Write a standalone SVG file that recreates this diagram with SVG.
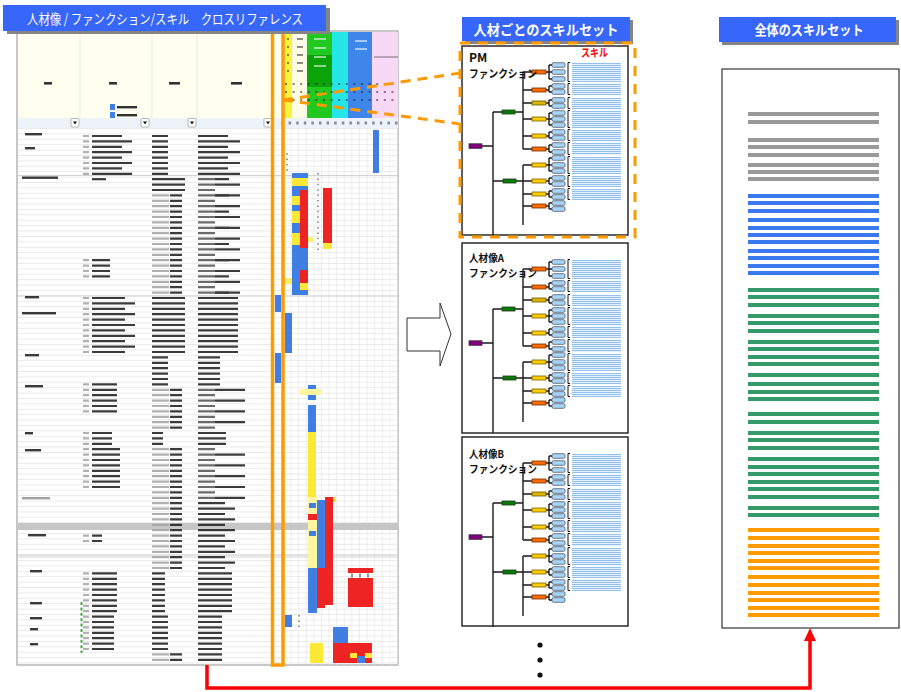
<svg xmlns="http://www.w3.org/2000/svg" xmlns:xlink="http://www.w3.org/1999/xlink" width="901" height="692" viewBox="0 0 901 692">
<style>
  .ttl{font-family:"Noto Sans CJK JP","Liberation Sans",sans-serif;fill:#fff}
  .lbl{font-family:"Noto Sans CJK JP","Liberation Sans",sans-serif;font-weight:bold;fill:#111}
  .tb{stroke:#262626;stroke-dasharray:2.2 3.2;fill:none}
  .tb2{stroke:#262626;stroke-dasharray:2.2 8.6;fill:none}
  .tb3{stroke:#262626;stroke-dasharray:2.2 14;fill:none}
  .tl{stroke:#a8a8a8;stroke-dasharray:2.2 3.2;fill:none}
  .tm{stroke:#5a5a5a;stroke-dasharray:2.2 3.2;fill:none}
  .B{fill:#3f7fe3}.R{fill:#ee2424}.Y{fill:#fbe936}.LY{fill:#fff4a0}
  .cn{stroke:#1a1a1a;stroke-width:1.4;fill:none}
  .fo{fill:#ff6a00;stroke:#6b3000;stroke-width:0.8}
  .fy{fill:#ffcc00;stroke:#7a6000;stroke-width:0.8}
  .fy2{fill:#dcb400;stroke:#6b5500;stroke-width:0.8}
  .sk{fill:#a9d3f7;stroke:#4d5b6a;stroke-width:0.8}
  .br{stroke:#111;stroke-width:1;fill:none}
  .box{fill:#fff;stroke:#2a2a2a;stroke-width:1.5}
  .gr{fill:#9a9a9a}.bl{fill:#3a78ee}.gn{fill:#35996a}.or{fill:#ff9a00}
</style>
<defs>
  <pattern id="rowGrid" x="0" y="128" width="10" height="5.4" patternUnits="userSpaceOnUse">
    <rect width="10" height="0.6" fill="#dedede"/>
  </pattern>
  <pattern id="colGrid" x="283" y="0" width="7.6" height="10" patternUnits="userSpaceOnUse">
    <rect width="0.6" height="10" fill="#e4e4e4"/>
  </pattern>
  <filter id="soft" x="-5%" y="-5%" width="110%" height="110%">
    <feGaussianBlur stdDeviation="0.45"/>
  </filter>
  <!-- one skill tree: role, functions, skills -->
  <g id="skillTree">
    <path class="cn" d="M20 100H31M31 66V190M31 66H40M31 135H41M53 66H61M61 26V103M54 135H61M61 119V179M61 26H70M61 44H70M61 57H70M61 73H70M61 90H70M61 103H70M61 119H70M61 135H70M61 148H70M61 160H70"/>
    <path class="cn" stroke-width="1" d="M84 26H87M87 19V33M87 19H90M87 26H90M87 33H90
      M84 44H87M87 40V46M87 40H90M87 46H90
      M84 57H87M87 54V60M87 54H90M87 60H90
      M84 73H87M87 67V79M87 67H90M87 73H90M87 79H90
      M84 90H87M87 86V92M87 86H90M87 92H90
      M84 103H87M87 99V106M87 99H90M87 106H90
      M84 119H87M87 112V125M87 112H90M87 119H90M87 125H90
      M84 135H87M87 132V138M87 132H90M87 138H90
      M84 148H87M87 145V151M87 145H90M87 151H90
      M84 160H87M87 157V163M87 157H90M87 163H90"/>
    <rect x="7" y="97.8" width="13" height="4.5" fill="#82007e" stroke="#333" stroke-width="0.8"/>
    <rect x="40" y="64" width="13" height="4" fill="#087a08" stroke="#1f3a1f" stroke-width="0.8"/>
    <rect x="41" y="133" width="13" height="4" fill="#087a08" stroke="#1f3a1f" stroke-width="0.8"/>
    <rect class="fo" x="70" y="24" width="14" height="4"/>
    <rect class="fo" x="70" y="42" width="14" height="4"/>
    <rect class="fy2" x="70" y="55" width="14" height="4"/>
    <rect class="fy" x="70" y="71" width="14" height="4"/>
    <rect class="fy" x="70" y="88" width="14" height="4"/>
    <rect class="fo" x="70" y="101" width="14" height="4"/>
    <rect class="fy" x="70" y="117" width="14" height="4"/>
    <rect class="fy" x="70" y="133" width="14" height="4"/>
    <rect class="fy" x="70" y="146" width="14" height="4"/>
    <rect class="fo" x="70" y="158" width="14" height="4"/>
    <g>
      <rect class="sk" x="90" y="16.7" width="13" height="4.6" rx="1.4"/>
      <rect class="sk" x="90" y="23.7" width="13" height="4.6" rx="1.4"/>
      <rect class="sk" x="90" y="30.7" width="13" height="4.6" rx="1.4"/>
      <rect class="sk" x="90" y="37.7" width="13" height="4.6" rx="1.4"/>
      <rect class="sk" x="90" y="43.7" width="13" height="4.6" rx="1.4"/>
      <rect class="sk" x="90" y="51.7" width="13" height="4.6" rx="1.4"/>
      <rect class="sk" x="90" y="57.7" width="13" height="4.6" rx="1.4"/>
      <rect class="sk" x="90" y="64.7" width="13" height="4.6" rx="1.4"/>
      <rect class="sk" x="90" y="70.7" width="13" height="4.6" rx="1.4"/>
      <rect class="sk" x="90" y="76.7" width="13" height="4.6" rx="1.4"/>
      <rect class="sk" x="90" y="83.7" width="13" height="4.6" rx="1.4"/>
      <rect class="sk" x="90" y="89.7" width="13" height="4.6" rx="1.4"/>
      <rect class="sk" x="90" y="96.7" width="13" height="4.6" rx="1.4"/>
      <rect class="sk" x="90" y="103.7" width="13" height="4.6" rx="1.4"/>
      <rect class="sk" x="90" y="109.7" width="13" height="4.6" rx="1.4"/>
      <rect class="sk" x="90" y="116.7" width="13" height="4.6" rx="1.4"/>
      <rect class="sk" x="90" y="122.7" width="13" height="4.6" rx="1.4"/>
      <rect class="sk" x="90" y="129.7" width="13" height="4.6" rx="1.4"/>
      <rect class="sk" x="90" y="135.7" width="13" height="4.6" rx="1.4"/>
      <rect class="sk" x="90" y="142.7" width="13" height="4.6" rx="1.4"/>
      <rect class="sk" x="90" y="148.7" width="13" height="4.6" rx="1.4"/>
      <rect class="sk" x="90" y="154.7" width="13" height="4.6" rx="1.4"/>
      <rect class="sk" x="90" y="160.7" width="13" height="4.6" rx="1.4"/>
    </g>
    <!-- skill item lines -->
    <g fill="#e6f1fc">
      <rect x="110" y="17" width="49" height="19"/>
      <rect x="110" y="38" width="49" height="11"/>
      <rect x="110" y="52" width="49" height="11"/>
      <rect x="110" y="65" width="49" height="17"/>
      <rect x="110" y="84" width="49" height="11"/>
      <rect x="110" y="97" width="49" height="12"/>
      <rect x="110" y="111" width="49" height="17"/>
      <rect x="110" y="130" width="49" height="11"/>
      <rect x="110" y="143" width="49" height="11"/>
    </g>
    <path stroke="#92c1f0" stroke-width="49" stroke-dasharray="1 1" fill="none"
      d="M134.5 17V36M134.5 38V49M134.5 52V63M134.5 65V82M134.5 84V95M134.5 97V109M134.5 111V128M134.5 130V141M134.5 143V154"/>
    <path class="br" d="M108 16.5H106V35.5H108M108 37.5H106V48.5H108M108 51.5H106V62.5H108M108 64.5H106V81.5H108M108 83.5H106V94.5H108M108 96.5H106V108.5H108M108 110.5H106V127.5H108M108 129.5H106V140.5H108M108 142.5H106V153.5H108"/>
  </g>
</defs>

<rect width="901" height="692" fill="#fff"/>

<!-- cross-reference sheet -->
<g id="sheet">
  <rect x="17" y="31" width="381" height="634" fill="#fff" stroke="#a3a3a3" stroke-width="1.2"/>
  <!-- header -->
  <rect x="18" y="32" width="265" height="86" fill="#fffff0"/>
  <path d="M80 32V118M152 32V118M197 32V118" stroke="#ecebd6" stroke-width="1"/>
  <rect x="283" y="32" width="3" height="86" fill="#f5f5c6"/>
  <rect x="285" y="32" width="7" height="86" fill="#f7f23c"/>
  <rect x="292" y="32" width="15" height="86" fill="#fdfde6"/>
  <rect x="307" y="32" width="25" height="86" fill="#20c820"/>
  <rect x="307" y="55" width="25" height="32" fill="#0aa40a"/>
  <rect x="332" y="32" width="16" height="86" fill="#25e6e6"/>
  <rect x="348" y="32" width="24" height="86" fill="#3f86ea"/>
  <rect x="372" y="32" width="26" height="86" fill="#f7d9f7"/>
  <g opacity="0.55" filter="url(#soft)">
    <path d="M300 38V75" stroke="#333" stroke-width="6" stroke-dasharray="2 6"/>
    <path d="M288 38V75" stroke="#333" stroke-width="2" stroke-dasharray="2 6"/>
    <path d="M320 38V70" stroke="#fff" stroke-width="12" stroke-dasharray="2 7"/>
    <path d="M361 40V52" stroke="#fff" stroke-width="12" stroke-dasharray="2 6"/>
    <path d="M285 84H398M285 92H398M285 100H398" stroke="#222" stroke-width="2" stroke-dasharray="2 5.6"/>
    <path d="M374 57H398" stroke="#555" stroke-width="1.5"/>
  </g>
  <!-- header labels, legend, filter row -->
  <g filter="url(#soft)" fill="#333">
    <rect x="44" y="82" width="8" height="2.6"/>
    <rect x="109" y="82" width="8" height="2.6"/>
    <rect x="169" y="82" width="11" height="2.6"/>
    <rect x="231" y="82" width="11" height="2.6"/>
    <rect x="110" y="104" width="5" height="6" fill="#3f7fe3"/>
    <rect x="110" y="112" width="5" height="6" fill="#3f7fe3"/>
    <rect x="117" y="106" width="20" height="2.4"/>
    <rect x="117" y="114" width="20" height="2.4"/>
  </g>
  <rect x="18" y="118" width="380" height="10" fill="#eef3f9"/>
  <path d="M281 123H398" stroke="#5a6070" stroke-width="3" stroke-dasharray="2.5 5.1" opacity="0.7"/>
  <g fill="#fff" stroke="#9aa" stroke-width="0.8">
    <rect x="71" y="118.5" width="8" height="8.5" rx="1"/>
    <rect x="141" y="118.5" width="8" height="8.5" rx="1"/>
    <rect x="188" y="118.5" width="8" height="8.5" rx="1"/>
    <rect x="264" y="118.5" width="8" height="8.5" rx="1"/>
  </g>
  <g fill="#111">
    <path d="M73 121.5h4l-2 3z"/><path d="M143 121.5h4l-2 3z"/><path d="M190 121.5h4l-2 3z"/><path d="M266 121.5h4l-2 3z"/>
  </g>
  <!-- data grid -->
  <rect x="18" y="128" width="380" height="537" fill="url(#rowGrid)"/>
  <rect x="283" y="128" width="115" height="537" fill="url(#colGrid)"/>
  <rect x="18" y="523" width="380" height="7" fill="#c6c6c6"/>
  <path d="M18 175.5H398M18 296H398M18 555H398M18 557H398" stroke="#c8c8c8" stroke-width="0.8"/>
  <!-- cell texts -->
  <g filter="url(#soft)" opacity="0.9">
    <g fill="#262626">
      <rect x="25" y="133" width="17" height="2.4"/>
      <rect x="25" y="147" width="10" height="2.4"/>
      <rect x="22" y="176.5" width="36" height="2.4"/>
      <rect x="25" y="296" width="14" height="2.4"/>
      <rect x="22" y="312" width="34" height="2.4"/>
      <rect x="25" y="354" width="14" height="2.4"/>
      <rect x="25" y="385" width="18" height="2.4"/>
      <rect x="25" y="432" width="8" height="2.4"/>
      <rect x="25" y="449" width="16" height="2.4"/>
      <rect x="28" y="534" width="18" height="2.4"/>
      <rect x="30" y="570" width="12" height="2.4"/>
      <rect x="30" y="602" width="12" height="2.4"/>
      <rect x="30" y="617" width="12" height="2.4"/>
      <rect x="30" y="628" width="8" height="2.4"/>
      <rect x="30" y="643" width="8" height="2.4"/>
    </g>
    <rect x="22" y="497" width="28" height="2.4" fill="#9a9a9a"/>
    <!-- numbering -->
    <path class="tl" stroke-width="6" d="M86 134.9V175.1M86 259.1V277.7M86 296.9V353.3M86 383.3V412.7M86 431.9V445.1M86 448.1V488.3M86 534.5V542.3M86 572.3V650.3"/>
    <!-- second column -->
    <path class="tb" stroke-width="30" d="M107 134.9V175.1"/>
    <path class="tb2" stroke-width="10" d="M127 140.3V175.1"/>
    <path class="tb" stroke-width="14" d="M99 178.1V180.5"/>
    <path class="tb" stroke-width="18" d="M101 259.1V277.7"/>
    <path class="tb" stroke-width="33" d="M108.5 296.9V353.3"/>
    <path class="tb2" stroke-width="10" d="M130 302.3V353.3"/>
    <path class="tb" stroke-width="25" d="M104.5 383.3V412.7"/>
    <path class="tb" stroke-width="20" d="M102 431.9V445.1"/>
    <path class="tb" stroke-width="28" d="M106 448.1V488.3"/>
    <path class="tb" stroke-width="10" d="M97 534.5V542.3"/>
    <path class="tb" stroke-width="25" d="M104.5 572.3V612.5"/>
    <path class="tb" stroke-width="22" d="M103 615.5V650.3"/>
    <!-- third column -->
    <path class="tb" stroke-width="16" d="M160 134.9V175.1"/>
    <path class="tb" stroke-width="33" d="M168.5 178.1V191.3"/>
    <path class="tl" stroke-width="17" d="M160.5 194.3V293.9M160.5 388.7V428.9M160.5 448.1V569.3M160.5 653.3V661.1"/>
    <path class="tb" stroke-width="12" d="M176 194.3V293.9M176 388.7V428.9M176 448.1V569.3M176 653.3V661.1"/>
    <path class="tb" stroke-width="33" d="M168.5 296.9V353.3"/>
    <path class="tb" stroke-width="16" d="M160 356.3V385.7"/>
    <path class="tb" stroke-width="11" d="M157.5 431.9V445.1"/>
    <path class="tb" stroke-width="13" d="M158.5 572.3V612.5"/>
    <path class="tb" stroke-width="16" d="M160 615.5V650.3"/>
    <!-- fourth column -->
    <path class="tb" stroke-width="30" d="M213 134.9V175.1"/>
    <path class="tb2" stroke-width="12" d="M234 140.3V175.1"/>
    <path class="tm" stroke-width="17" d="M206.5 178.1V293.9"/>
    <path class="tb2" stroke-width="25" d="M227.5 183.5V293.9"/>
    <path class="tb3" stroke-width="14" d="M222 178.1V293.9"/>
    <path class="tb" stroke-width="40" d="M218 296.9V353.3"/>
    <path class="tb" stroke-width="22" d="M209 356.3V385.7"/>
    <path class="tm" stroke-width="17" d="M206.5 388.7V428.9M206.5 448.1V499.1"/>
    <path class="tb2" stroke-width="30" d="M230 388.7V428.9M230 453.5V499.1"/>
    <path class="tb" stroke-width="28" d="M212 431.9V445.1"/>
    <path class="tb" stroke-width="27" d="M211.5 502.1V569.3"/>
    <path class="tb2" stroke-width="10" d="M230 507.5V569.3"/>
    <path class="tb" stroke-width="34" d="M215 572.3V612.5"/>
    <path class="tb" stroke-width="24" d="M210 615.5V661.1"/>
  </g>
  <path d="M81.5 602V653" stroke="#45a845" stroke-width="2" stroke-dasharray="3 2.4"/>
  <!-- skill marks -->
  <g>
    <rect class="B" x="373" y="130" width="6" height="43"/>
    <rect class="B" x="292" y="173" width="16" height="5"/>
    <rect class="Y" x="292" y="178" width="16" height="8"/>
    <rect class="B" x="292" y="186" width="8" height="10"/>
    <rect class="B" x="300" y="186" width="8" height="4"/>
    <rect class="R" x="300" y="190" width="8" height="58"/>
    <rect class="Y" x="292" y="196" width="8" height="9"/>
    <rect class="B" x="292" y="205" width="8" height="6"/>
    <rect class="Y" x="292" y="211" width="8" height="12"/>
    <rect class="B" x="292" y="223" width="8" height="10"/>
    <rect class="Y" x="292" y="233" width="8" height="12"/>
    <rect class="Y" x="308" y="237" width="5" height="5" opacity="0.7"/>
    <rect class="B" x="292" y="245" width="8" height="50"/>
    <rect class="B" x="300" y="248" width="8" height="22"/>
    <rect class="R" x="300" y="270" width="8" height="13"/>
    <rect class="Y" x="300" y="283" width="8" height="7"/>
    <rect class="B" x="300" y="290" width="8" height="5"/>
    <rect class="Y" x="285" y="278" width="7" height="6" opacity="0.75"/>
    <rect class="R" x="323" y="188" width="9" height="55"/>
    <rect class="Y" x="323" y="243" width="9" height="6"/>
    <rect class="B" x="275" y="295" width="6" height="17"/>
    <rect class="B" x="285" y="313" width="7" height="40"/>
    <rect class="B" x="275" y="353" width="6" height="30"/>
    <rect class="B" x="308" y="385" width="8" height="4"/>
    <rect class="LY" x="300" y="389" width="22" height="6"/>
    <rect class="B" x="308" y="395" width="8" height="5"/>
    <rect class="B" x="308" y="405" width="8" height="27"/>
    <rect class="Y" x="308" y="432" width="8" height="65"/>
    <rect class="LY" x="308" y="497" width="9" height="71"/>
    <rect class="B" x="309" y="503" width="7" height="5"/>
    <rect class="R" x="308" y="514" width="9" height="6"/>
    <rect class="B" x="309" y="531" width="7" height="5"/>
    <rect class="B" x="317" y="500" width="8" height="68"/>
    <rect class="R" x="325" y="497" width="8" height="108"/>
    <rect class="Y" x="333" y="497" width="3" height="5"/>
    <rect class="B" x="308" y="568" width="9" height="45"/>
    <rect class="R" x="317" y="568" width="8" height="40"/>
    <rect class="R" x="348" y="568" width="25" height="5"/>
    <rect class="R" x="348" y="578" width="25" height="29"/>
    <rect class="B" x="285" y="615" width="7" height="12"/>
    <rect class="B" x="333" y="627" width="15" height="16"/>
    <rect class="Y" x="310" y="643" width="13" height="20"/>
    <rect class="R" x="333" y="643" width="39" height="20"/>
    <rect class="Y" x="350" y="653" width="7" height="5"/>
    <rect class="B" x="357" y="656" width="8" height="7"/>
    <rect class="Y" x="365" y="653" width="7" height="5"/>
    <path d="M318 173V250M287 153V171M299 615V627" stroke="#9a9a9a" stroke-width="2" stroke-dasharray="1.5 3.9"/>
    <path d="M352 573.5V577.5M360 573.5V577.5M368 573.5V577.5" stroke="#777" stroke-width="1.5"/>
  </g>
  <!-- selected column -->
  <rect x="272.5" y="32" width="10.5" height="633" fill="none" stroke="#ff9a00" stroke-width="3.5"/>
</g>

<!-- headings -->
<g id="title-crossref">
  <rect x="7" y="8" width="323" height="26" fill="#858585"/>
  <rect x="3" y="5" width="323" height="26" fill="#3666fa"/>
  <text class="ttl" x="27" y="24" font-size="13.5" textLength="276" lengthAdjust="spacingAndGlyphs">人材像 / ファンクション/スキル　クロスリファレンス</text>
</g>
<g id="title-person">
  <rect x="465" y="20" width="168" height="24" fill="#858585"/>
  <rect x="462" y="17" width="168" height="24" fill="#3666fa"/>
  <text class="ttl" x="546" y="35" font-size="14" font-weight="bold" text-anchor="middle" textLength="145" lengthAdjust="spacingAndGlyphs">人材ごとのスキルセット</text>
</g>
<g id="title-total">
  <rect x="722" y="20" width="177" height="25" fill="#858585"/>
  <rect x="719" y="17" width="177" height="25" fill="#3666fa"/>
  <text class="ttl" x="809" y="35" font-size="13.5" font-weight="bold" text-anchor="middle" textLength="109" lengthAdjust="spacingAndGlyphs">全体のスキルセット</text>
</g>

<!-- per-person skill sets -->
<g id="set-pm">
  <rect class="box" x="462" y="46" width="166" height="189"/>
  <use xlink:href="#skillTree" transform="translate(462,46)"/>
  <text class="lbl" x="469" y="62" font-size="12">PM</text>
  <text class="lbl" x="469" y="78" font-size="11" textLength="68" lengthAdjust="spacingAndGlyphs">ファンクション</text>
  <text x="581" y="57" font-size="11" font-weight="bold" fill="#ff0000" font-family="Noto Sans CJK JP, sans-serif" textLength="27" lengthAdjust="spacingAndGlyphs">スキル</text>
</g>
<g id="set-a">
  <rect class="box" x="462" y="243" width="166" height="190"/>
  <use xlink:href="#skillTree" transform="translate(462,243)"/>
  <text class="lbl" x="469" y="261.5" font-size="10.5" textLength="35" lengthAdjust="spacingAndGlyphs">人材像A</text>
  <text class="lbl" x="469" y="277" font-size="10.5" textLength="68" lengthAdjust="spacingAndGlyphs">ファンクション</text>
</g>
<g id="set-b">
  <rect class="box" x="462" y="437" width="166" height="189"/>
  <use xlink:href="#skillTree" transform="translate(462,437)"/>
  <text class="lbl" x="469" y="457.5" font-size="10.5" textLength="35" lengthAdjust="spacingAndGlyphs">人材像B</text>
  <text class="lbl" x="469" y="473" font-size="10.5" textLength="68" lengthAdjust="spacingAndGlyphs">ファンクション</text>
</g>
<g id="more">
  <circle cx="540" cy="645" r="2.6" fill="#111"/>
  <circle cx="540" cy="660" r="2.6" fill="#111"/>
  <circle cx="540" cy="675" r="2.6" fill="#111"/>
</g>

<!-- overall skill set -->
<g id="set-total">
  <rect x="722" y="69" width="177" height="559" fill="#fff" stroke="#444" stroke-width="1.3"/>
  <g class="gr">
    <rect x="748" y="112" width="131" height="4"/><rect x="748" y="120" width="131" height="4"/>
    <rect x="748" y="138" width="131" height="4"/><rect x="748" y="145" width="131" height="4"/><rect x="748" y="153" width="131" height="4"/>
    <rect x="748" y="163" width="131" height="4"/><rect x="748" y="170" width="131" height="4"/><rect x="748" y="177" width="131" height="4"/>
  </g>
  <g class="bl">
    <rect x="748" y="194" width="131" height="4"/><rect x="748" y="201" width="131" height="4"/><rect x="748" y="209" width="131" height="4"/>
    <rect x="748" y="218" width="131" height="4"/><rect x="748" y="226" width="131" height="4"/><rect x="748" y="233" width="131" height="4"/><rect x="748" y="240" width="131" height="4"/>
    <rect x="748" y="249" width="131" height="4"/><rect x="748" y="256" width="131" height="4"/><rect x="748" y="264" width="131" height="4"/><rect x="748" y="271" width="131" height="4"/>
  </g>
  <g class="gn">
    <rect x="748" y="288" width="131" height="4"/><rect x="748" y="295" width="131" height="4"/><rect x="748" y="303" width="131" height="4"/>
    <rect x="748" y="314" width="131" height="4"/><rect x="748" y="321" width="131" height="4"/><rect x="748" y="329" width="131" height="4"/>
    <rect x="748" y="340" width="131" height="4"/><rect x="748" y="347" width="131" height="4"/><rect x="748" y="355" width="131" height="4"/><rect x="748" y="362" width="131" height="4"/>
    <rect x="748" y="373" width="131" height="4"/>
    <rect x="748" y="382" width="131" height="4"/><rect x="748" y="390" width="131" height="4"/><rect x="748" y="397" width="131" height="4"/>
    <rect x="748" y="412" width="131" height="4"/><rect x="748" y="420" width="131" height="4"/>
    <rect x="748" y="431" width="131" height="4"/><rect x="748" y="438" width="131" height="4"/><rect x="748" y="446" width="131" height="4"/>
    <rect x="748" y="457" width="131" height="4"/><rect x="748" y="465" width="131" height="4"/><rect x="748" y="472" width="131" height="4"/><rect x="748" y="480" width="131" height="4"/><rect x="748" y="487" width="131" height="4"/><rect x="748" y="495" width="131" height="4"/>
    <rect x="748" y="506" width="131" height="4"/><rect x="748" y="513" width="131" height="4"/>
  </g>
  <g class="or">
    <rect x="748" y="528" width="131" height="4"/><rect x="748" y="536" width="131" height="4"/><rect x="748" y="544" width="131" height="4"/><rect x="748" y="551" width="131" height="4"/><rect x="748" y="559" width="131" height="4"/><rect x="748" y="566" width="131" height="4"/>
    <rect x="748" y="575" width="131" height="4"/><rect x="748" y="583" width="131" height="4"/><rect x="748" y="591" width="131" height="4"/><rect x="748" y="598" width="131" height="4"/><rect x="748" y="606" width="131" height="4"/><rect x="748" y="613" width="131" height="4"/>
  </g>
</g>

<!-- connectors -->
<g id="connectors">
  <path d="M283 100L460 73M283 100L460 124" stroke="#ff9a00" stroke-width="3" stroke-dasharray="10 7" fill="none"/>
  <rect x="460" y="43" width="175" height="194" fill="none" stroke="#ff9a00" stroke-width="3" stroke-dasharray="10 8"/>
  <polygon points="407,318 440,318 440,303 451,334 440,366 440,351 407,351" fill="#fff" stroke="#333" stroke-width="1"/>
  <path d="M207 665V688H810V640" fill="none" stroke="#ff0000" stroke-width="3.5"/>
  <polygon points="804,641 816,641 810,628" fill="#ff0000"/>
</g>
</svg>
